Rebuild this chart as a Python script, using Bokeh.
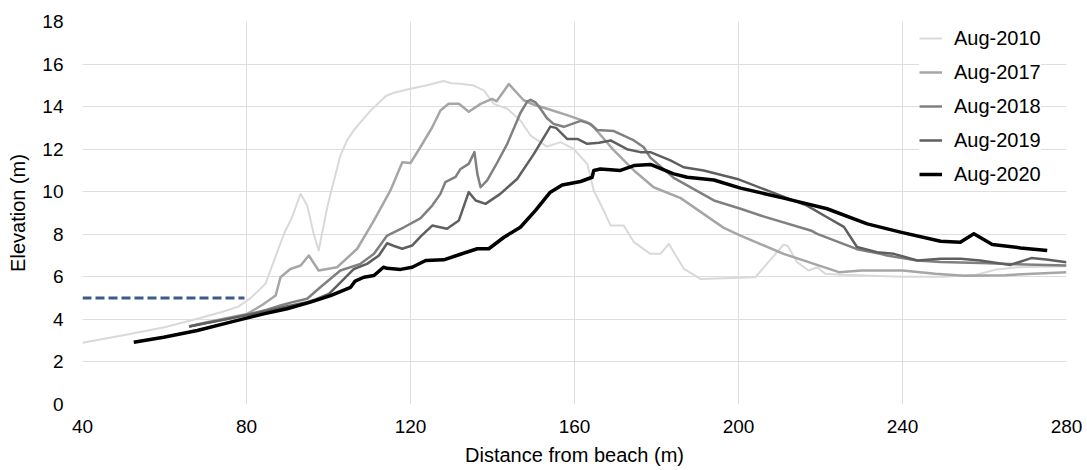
from bokeh.plotting import figure
from bokeh.embed import file_html
from bokeh.resources import INLINE
from bokeh.models import FixedTicker, Legend

# ---------------- data ----------------
x_2010 = [40, 50, 60, 68, 74, 78, 81, 84.6, 87, 89.1, 91.1, 93.2, 94.8, 96.4, 97.6, 99.7, 100.5,
          102.9, 104.5, 106.2, 110.2, 114, 116, 120, 124, 128.1, 130, 132.2, 135.4, 137.9, 140.3,
          143.6, 146.8, 149.3, 153.3, 156.6, 159.8, 163.1, 164.7, 167.1, 168.8, 172, 174.5, 178.5,
          181, 183, 186.7, 190.7, 204.1, 211, 212, 214.3, 217.1, 219.2, 221.2, 225, 240, 250, 258,
          263, 268, 280]
y_2010 = [2.9, 3.25, 3.63, 4.03, 4.35, 4.6, 5.0, 5.67, 6.9, 8.0, 8.8, 9.9, 9.35, 8.0, 7.24, 9.27, 9.9,
          11.7, 12.4, 12.9, 13.8, 14.5, 14.65, 14.84, 15.0, 15.2, 15.1, 15.07, 14.99, 14.76, 14.13,
          13.9, 13.35, 12.64, 12.12, 12.33, 12.01, 11.31, 10.06, 9.12, 8.41, 8.41, 7.63, 7.08,
          7.08, 7.55, 6.37, 5.9, 5.98, 7.52, 7.45, 6.69, 6.3, 6.45, 6.14, 6.1, 6.0, 6.0, 6.1,
          6.35, 6.45, 6.5]

x_2017 = [66, 70, 75, 80.2, 84, 87.1, 88.3, 90.7, 93.2, 95.2, 97.6, 102.1, 107, 111.1, 115.1, 118,
          120, 122.4, 125.3, 127.3, 129.3, 131.8, 134.2, 137.1, 139.9, 141, 144, 147.6, 150, 153.3,
          158.2, 163.1, 164.7, 169.6, 174.5, 179.3, 185.9, 196.4, 200.5, 211, 224.5, 230, 240, 248,
          255, 265, 280]
y_2017 = [3.67, 3.85, 4.05, 4.26, 4.7, 5.12, 5.98, 6.37, 6.53, 7.0, 6.3, 6.45, 7.32, 8.65, 10.06, 11.39,
          11.35, 12.09, 13.03, 13.82, 14.13, 14.13, 13.76, 14.13, 14.36, 14.25, 15.06, 14.3, 14.1, 13.9,
          13.6, 13.27, 13.03, 11.94, 11.0, 10.21, 9.7, 8.3, 7.94, 7.08, 6.22, 6.3, 6.3, 6.15,
          6.05, 6.08, 6.22]

x_2018 = [66, 70, 75, 80, 85, 88.3, 91, 94.8, 98, 102.9, 107.8, 111.1, 114.3, 118.4, 122.4, 125.3,
          127.3, 128.5, 131, 132.2, 134.2, 135.6, 136.3, 137.1, 138.7, 141.1, 143.6, 146.8, 148.5,
          149.3, 150.5, 151.7, 153.3, 154.9, 157.4, 161.5, 163.9, 165.5, 169.6, 174.5, 176.9, 178.5,
          184.2, 194, 200.5, 205.4, 217.6, 219.2, 228.9, 234.6, 236.2, 243.6, 249.3, 259, 266.3, 280]
y_2018 = [3.67, 3.83, 4.02, 4.22, 4.45, 4.65, 4.8, 4.97, 5.51, 6.3, 6.61, 7.08, 7.94, 8.33, 8.75, 9.35,
          9.9, 10.45, 10.7, 11.07, 11.31, 11.86, 10.84, 10.21, 10.53, 11.35, 12.25, 13.7, 14.25,
          14.32, 14.2, 13.9, 13.45, 13.19, 13.05, 13.33, 13.19, 12.9, 12.85, 12.41, 12.09, 11.6,
          10.65, 9.59, 9.2, 8.88, 8.18, 8.02, 7.3, 7.08, 7.0, 6.77, 6.7, 6.65, 6.6, 6.53]

x_2019 = [66, 70, 75, 80, 85, 90, 94.8, 97, 100.1, 103, 106.2, 109.4, 112.3, 114.3, 116, 118, 120.4,
          122.5, 125.3, 128.9, 131.8, 134.2, 135.9, 138.3, 141.9, 146, 150.1, 154.1, 155.5, 158.2,
          160.7, 163.1, 166, 168.8, 172.8, 176.1, 178.5, 183.4, 186.6, 191.5, 199.7, 207, 216.7,
          221.6, 225.7, 228.9, 233.8, 237.9, 243.6, 249.3, 254.1, 259, 266.3, 271.4, 275.1, 280]
y_2019 = [3.67, 3.82, 4.0, 4.2, 4.4, 4.62, 4.81, 4.95, 5.2, 5.75, 6.37, 6.61, 7.0, 7.58, 7.45, 7.32, 7.47,
          7.9, 8.41, 8.26, 8.65, 9.98, 9.59, 9.43, 9.9, 10.6, 11.78, 13.06, 13.0, 12.48,
          12.48, 12.25, 12.3, 12.41, 12.0, 11.86, 11.86, 11.47, 11.15, 11.0, 10.6, 10.06, 9.35,
          8.8, 8.35, 7.4, 7.16, 7.08, 6.77, 6.85, 6.85, 6.77, 6.56, 6.88, 6.81, 6.69]

x_2020 = [52.5, 59.8, 68, 76.1, 84.2, 89.9, 95.6, 100.5, 105.4, 106.5, 108.6, 111.1, 113.4, 114.3,
          117.6, 120.4, 123.7, 128.1, 132, 136.3, 139.1, 142.8, 146.8, 150.5, 154.1, 157, 161.5,
          164.3, 164.7, 166.3, 171.2, 174.5, 178.5, 184.2, 187.5, 194, 200.5, 211, 221.6, 231.4,
          239.5, 249.3, 254.1, 257.4, 261.9, 268.8, 275.3]
y_2020 = [2.93, 3.16, 3.48, 3.87, 4.26, 4.5, 4.81, 5.12, 5.51, 5.8, 5.98, 6.06, 6.45, 6.4,
          6.35, 6.45, 6.77, 6.8, 7.05, 7.32, 7.32, 7.86, 8.33, 9.12, 9.98, 10.32, 10.48,
          10.68, 11.0, 11.07, 11.0, 11.23, 11.28, 10.84, 10.68, 10.55, 10.17, 9.7, 9.2, 8.49,
          8.1, 7.67, 7.63, 8.02, 7.52, 7.36, 7.24]

x_ref = [40, 79.5]
y_ref = [5.0, 5.0]

x_ticks = [40, 80, 120, 160, 200, 240, 280]
y_ticks = [0, 2, 4, 6, 8, 10, 12, 14, 16, 18]

series = [
    ("Aug-2010", x_2010, y_2010, "#d9d9d9", 2.0),
    ("Aug-2017", x_2017, y_2017, "#a6a6a6", 2.5),
    ("Aug-2018", x_2018, y_2018, "#808080", 2.5),
    ("Aug-2019", x_2019, y_2019, "#5f5f5f", 2.5),
    ("Aug-2020", x_2020, y_2020, "#000000", 3.5),
]

FONT = "Liberation Sans"

p = figure(width=1087, height=470, output_backend="svg", toolbar_location=None,
           x_range=(40, 280), y_range=(0, 18),
           min_border_left=82, min_border_right=21, min_border_top=21, min_border_bottom=66)
p.outline_line_color = None
p.background_fill_color = "white"
p.border_fill_color = "white"

p.line(x_ref, y_ref, line_color="#3b5a87", line_width=3, line_dash="9 4")

items = []
for name, xs, ys, col, lw in series:
    r = p.line(xs, ys, line_color=col, line_width=lw, line_join="round")
    items.append((name, [r]))

legend = Legend(items=items, location=(837, 218))
legend.background_fill_color = "white"
legend.background_fill_alpha = 1.0
legend.border_line_color = None
legend.padding = 4
legend.spacing = 10
legend.glyph_width = 23
legend.glyph_height = 24
legend.label_height = 24
legend.label_standoff = 12
legend.label_text_font = FONT
legend.label_text_font_size = "20px"
legend.label_text_color = "black"
legend.margin = 0
p.add_layout(legend, "center")

p.xaxis.ticker = FixedTicker(ticks=x_ticks)
p.yaxis.ticker = FixedTicker(ticks=y_ticks)
p.xgrid.ticker = FixedTicker(ticks=x_ticks)
p.ygrid.ticker = FixedTicker(ticks=y_ticks)
for g in (p.xgrid, p.ygrid):
    g.grid_line_color = "#dedede"
    g.grid_line_width = 1

for ax in (p.xaxis, p.yaxis):
    ax.axis_line_color = None
    ax.major_tick_line_color = None
    ax.minor_tick_line_color = None
    ax.major_tick_out = 0
    ax.major_tick_in = 0
    ax.major_label_text_font = FONT
    ax.major_label_text_font_size = "19px"
    ax.major_label_text_color = "black"
    ax.axis_label_text_font = FONT
    ax.axis_label_text_font_size = "20px"
    ax.axis_label_text_font_style = "normal"
    ax.axis_label_text_color = "black"

p.xaxis.axis_label = "Distance from beach (m)"
p.yaxis.axis_label = "Elevation (m)"
p.xaxis.major_label_standoff = 15
p.xaxis.axis_label_standoff = 8
p.yaxis.major_label_standoff = 19
p.yaxis.axis_label_standoff = 10

open("out.html", "w").write(file_html(p, INLINE))
